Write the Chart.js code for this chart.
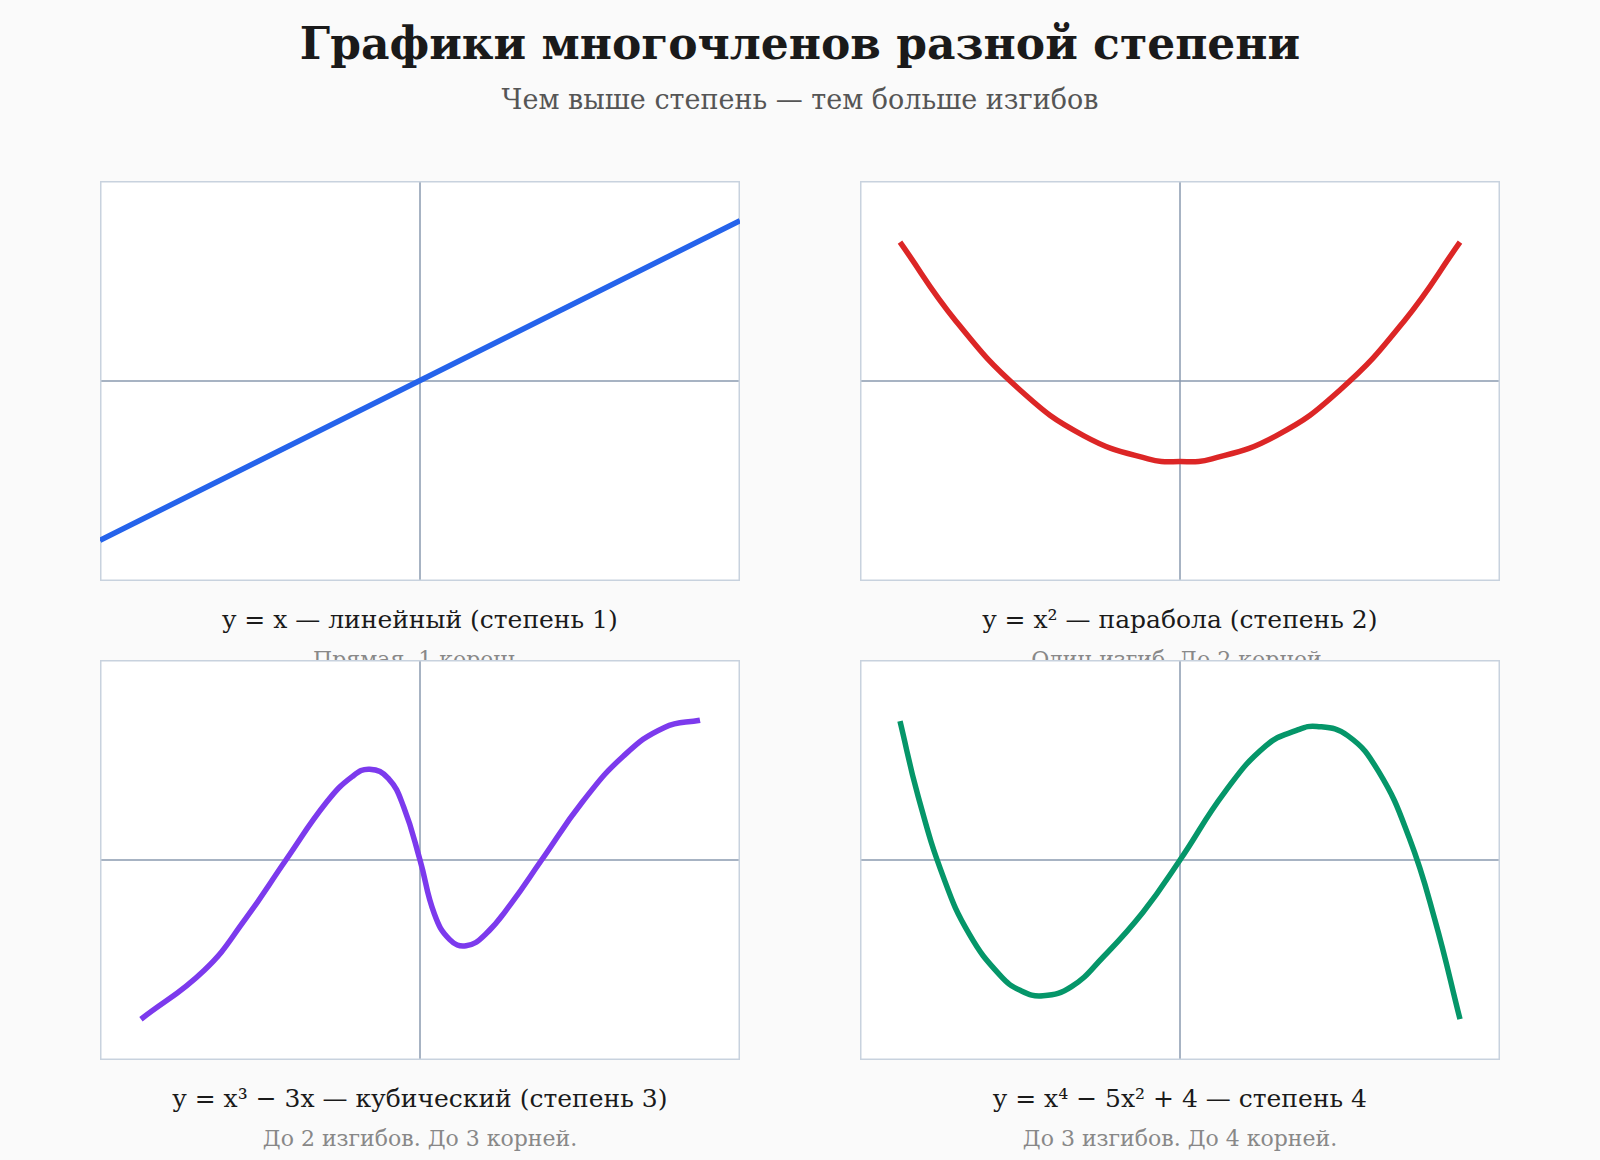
<!DOCTYPE html>
<html><head><meta charset="utf-8">
<script src="https://cdn.jsdelivr.net/npm/chart.js@4"></script>
<style>
body{margin:0;background:#fafafa;font-family:"DejaVu Serif",serif;width:1600px;height:1160px;position:relative;overflow:hidden}
.t{position:absolute;width:100%;text-align:center}
.box{position:absolute;width:640px;height:400px;background:#fff;z-index:2}
.cap{position:absolute;width:640px;text-align:center;font-size:25px;color:#1a1a1a}
.sub{position:absolute;width:640px;text-align:center;font-size:22px;color:#888}
</style></head><body>
<div class="t" style="top:18px;font-size:44px;font-weight:bold;color:#1a1a1a">Графики многочленов разной степени</div>
<div class="t" style="top:84px;font-size:27px;color:#555">Чем выше степень — тем больше изгибов</div>
<div id="wrap"></div>
<script>
// normalized coordinates: x and y in [-1, 1]
const titles = ["y = x — линейный (степень 1)", "y = x² — парабола (степень 2)",
  "y = x³ − 3x — кубический (степень 3)", "y = x⁴ − 5x² + 4 — степень 4"];
const notes = ["Прямая. 1 корень.", "Один изгиб. До 2 корней.",
  "До 2 изгибов. До 3 корней.", "До 3 изгибов. До 4 корней."];
const colors = ["#2563eb", "#dc2626", "#7c3aed", "#059669"];

const linX = [-1, 1];
const linY = [-0.796, 0.801];

const parX = [-0.875, -0.7, -0.5, -0.3, -0.1, 0, 0.1, 0.3, 0.5, 0.7, 0.875];
const parY = [0.694, 0.299, -0.045, -0.274, -0.389, -0.403, -0.389, -0.274, -0.045, 0.299, 0.694];

const cubX = [-0.872, -0.674, -0.546, -0.419, -0.291, -0.211, -0.157, -0.099, -0.051, 0, 0.045, 0.093, 0.144, 0.204, 0.284, 0.38, 0.508, 0.636, 0.764, 0.875];
const cubY = [-0.796, -0.551, -0.296, 0, 0.291, 0.418, 0.454, 0.408, 0.265, 0, -0.27, -0.398, -0.429, -0.372, -0.219, 0, 0.291, 0.52, 0.663, 0.699];

const quaX = [-0.875, -0.818, -0.738, -0.658, -0.562, -0.498, -0.428, -0.339, -0.243, -0.115, 0, 0.141, 0.268, 0.364, 0.428, 0.524, 0.62, 0.716, 0.796, 0.875];
const quaY = [0.694, 0.316, -0.092, -0.372, -0.577, -0.653, -0.679, -0.633, -0.49, -0.26, 0, 0.342, 0.571, 0.648, 0.668, 0.622, 0.444, 0.112, -0.296, -0.796];

const series = [[linX, linY], [parX, parY], [cubX, cubY], [quaX, quaY]];
const pos = [[100, 181], [860, 181], [100, 660], [860, 660]];

const axesPlugin = {
  id: "axes0",
  beforeDatasetsDraw(chart) {
    const { ctx, chartArea: a, scales: { x, y } } = chart;
    ctx.save();
    ctx.strokeStyle = "#8a9ab0"; ctx.lineWidth = 1.5;
    ctx.beginPath();
    const px = x.getPixelForValue(0), py = y.getPixelForValue(0);
    ctx.moveTo(px, a.top); ctx.lineTo(px, a.bottom);
    ctx.moveTo(a.left, py); ctx.lineTo(a.right, py);
    ctx.stroke();
    ctx.strokeStyle = "#c8d2de"; ctx.lineWidth = 1.5;
    ctx.strokeRect(a.left + 0.75, a.top + 0.75, a.width - 1.5, a.height - 1.5);
    ctx.restore();
  }
};

const wrap = document.getElementById("wrap");
series.forEach(([xs, ys], i) => {
  const [l, t] = pos[i];
  const box = document.createElement("div");
  box.className = "box"; box.style.left = l + "px"; box.style.top = t + "px";
  const cv = document.createElement("canvas");
  box.appendChild(cv); wrap.appendChild(box);
  const cap = document.createElement("div");
  cap.className = "cap"; cap.style.left = l + "px"; cap.style.top = (t + 424) + "px";
  cap.textContent = titles[i]; wrap.appendChild(cap);
  const sub = document.createElement("div");
  sub.className = "sub"; sub.style.left = l + "px"; sub.style.top = (t + 466) + "px";
  sub.textContent = notes[i]; wrap.appendChild(sub);

  new Chart(cv, {
    type: "line",
    data: { datasets: [{ data: xs.map((v, k) => ({ x: v, y: ys[k] })), borderColor: colors[i],
      borderWidth: 5.5, pointRadius: 0, tension: 0.45, capBezierPoints: false }] },
    options: {
      responsive: true, maintainAspectRatio: false, animation: false,
      layout: { padding: 0 },
      plugins: { legend: { display: false }, tooltip: { enabled: false } },
      scales: {
        x: { type: "linear", min: -1, max: 1, display: false },
        y: { min: -1, max: 1, display: false }
      }
    },
    plugins: [axesPlugin]
  });
});
</script>
</body></html>
